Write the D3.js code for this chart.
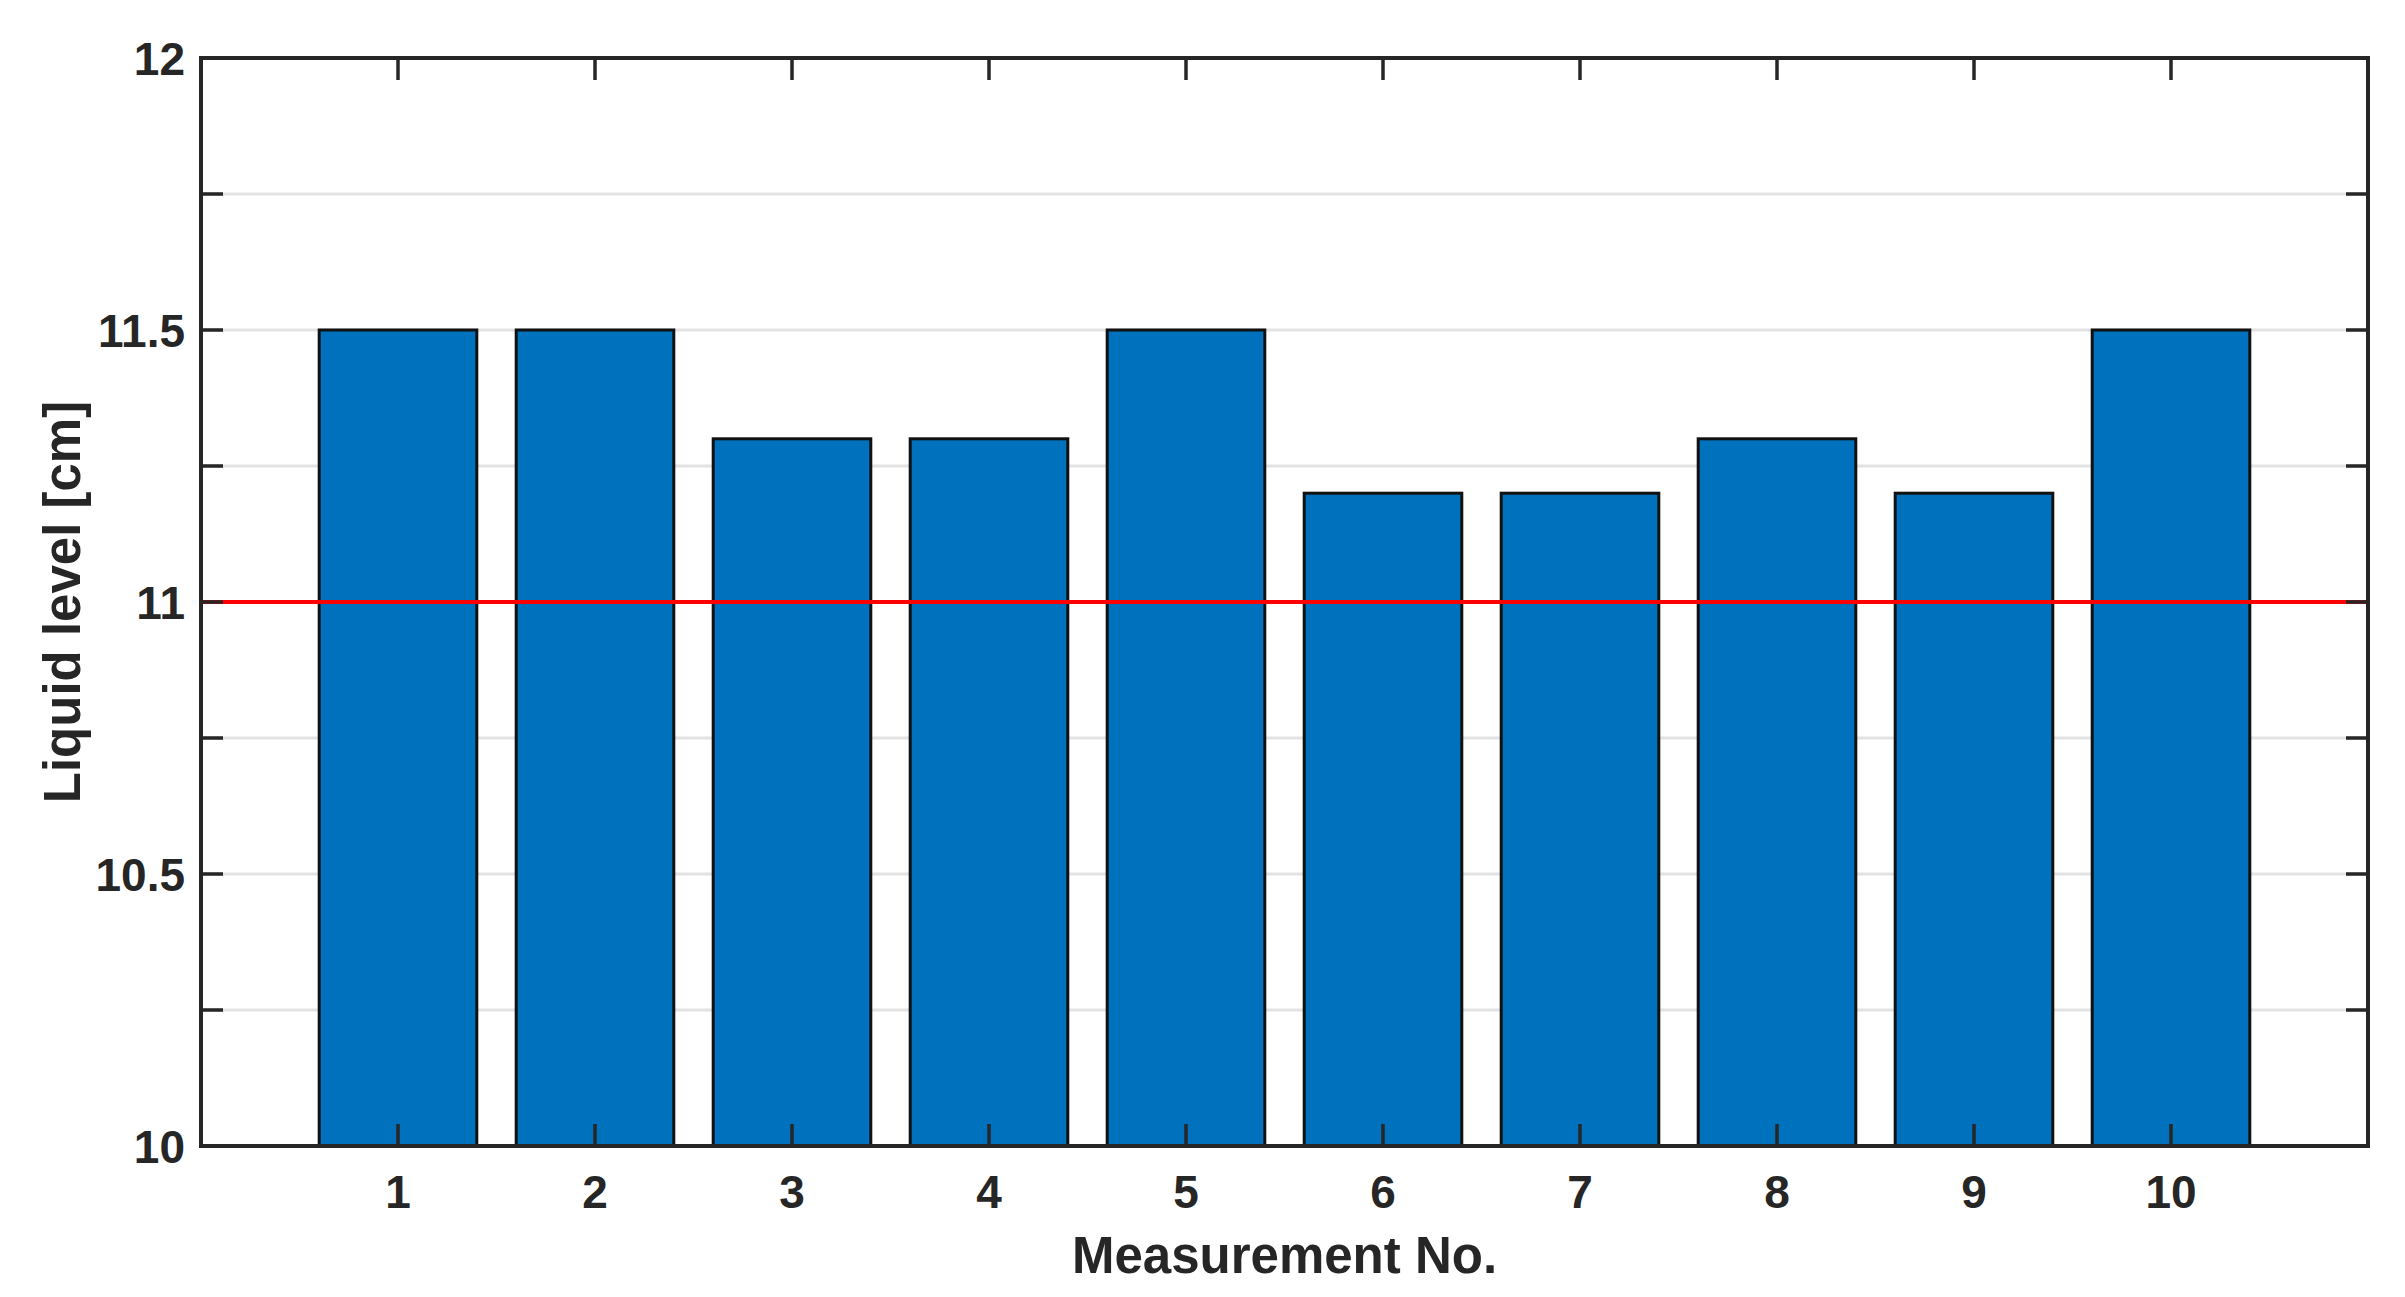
<!DOCTYPE html>
<html>
<head>
<meta charset="utf-8">
<script src="https://cdn.jsdelivr.net/npm/d3@7"></script>
<style>
  body { margin: 0; background: #fff; }
  text { font-family: "Liberation Sans", Arial, sans-serif; font-weight: bold; fill: #262626; }
</style>
</head>
<body>
<div id="chart"></div>
<script>
// data
var measurements = [1, 2, 3, 4, 5, 6, 7, 8, 9, 10];
var levels = [11.5, 11.5, 11.3, 11.3, 11.5, 11.2, 11.2, 11.3, 11.2, 11.5];
var refLevel = 11;
var yTicks = [10, 10.25, 10.5, 10.75, 11, 11.25, 11.5, 11.75, 12];
var yLabels = [10, 10.5, 11, 11.5, 12];

var W = 2405, H = 1297;
var plotLeft = 201, plotRight = 2368, plotTop = 58, plotBottom = 1146;

var svg = d3.select("#chart").append("svg")
    .attr("width", W)
    .attr("height", H);

var x = d3.scaleLinear().domain([0, 11]).range([plotLeft, plotRight]);
var y = d3.scaleLinear().domain([10, 12]).range([plotBottom, plotTop]);
var barW = x(0.8) - x(0);

var axisColor = "#262626";

// grid
svg.append("g").selectAll("line")
    .data(yTicks.filter(function(d) { return d > 10 && d < 12; }))
    .enter().append("line")
    .attr("x1", plotLeft).attr("x2", plotRight)
    .attr("y1", function(d) { return y(d); })
    .attr("y2", function(d) { return y(d); })
    .style("stroke", "#e3e3e3")
    .style("stroke-width", 3);

// bars
svg.append("g").selectAll("rect")
    .data(levels)
    .enter().append("rect")
    .attr("x", function(d, i) { return x(measurements[i]) - barW / 2; })
    .attr("y", function(d) { return y(d); })
    .attr("width", barW)
    .attr("height", function(d) { return y(10) - y(d); })
    .style("fill", "#0072BD")
    .style("stroke", "#111")
    .style("stroke-width", 3);

// reference line
svg.append("line")
    .attr("x1", plotLeft).attr("x2", plotRight)
    .attr("y1", y(refLevel)).attr("y2", y(refLevel))
    .style("stroke", "#ff0000")
    .style("stroke-width", 4);

// ticks, inward on all sides
var tl = 22;
var ticks = svg.append("g").style("stroke", axisColor).style("stroke-width", 3.5);
yTicks.forEach(function(d) {
  ticks.append("line").attr("x1", plotLeft).attr("x2", plotLeft + tl).attr("y1", y(d)).attr("y2", y(d));
  ticks.append("line").attr("x1", plotRight).attr("x2", plotRight - tl).attr("y1", y(d)).attr("y2", y(d));
});
measurements.forEach(function(d) {
  ticks.append("line").attr("x1", x(d)).attr("x2", x(d)).attr("y1", plotBottom).attr("y2", plotBottom - tl);
  ticks.append("line").attr("x1", x(d)).attr("x2", x(d)).attr("y1", plotTop).attr("y2", plotTop + tl);
});

// box
svg.append("rect")
    .attr("x", plotLeft).attr("y", plotTop)
    .attr("width", plotRight - plotLeft).attr("height", plotBottom - plotTop)
    .style("fill", "none")
    .style("stroke", axisColor)
    .style("stroke-width", 4);

// tick labels
svg.append("g").selectAll("text")
    .data(yLabels)
    .enter().append("text")
    .attr("x", plotLeft - 16)
    .attr("y", function(d) { return y(d); })
    .attr("dy", "0.36em")
    .attr("text-anchor", "end")
    .style("font-size", "46px")
    .text(function(d) { return d; });

svg.append("g").selectAll("text")
    .data(measurements)
    .enter().append("text")
    .attr("x", function(d) { return x(d); })
    .attr("y", 1208)
    .attr("text-anchor", "middle")
    .style("font-size", "46px")
    .text(function(d) { return d; });

// axis titles
svg.append("text")
    .attr("x", (plotLeft + plotRight) / 2)
    .attr("y", 1273)
    .attr("text-anchor", "middle")
    .style("font-size", "51px")
    .text("Measurement No.");

svg.append("text")
    .attr("transform", "translate(80," + (plotTop + plotBottom) / 2 + ") rotate(-90)")
    .attr("text-anchor", "middle")
    .style("font-size", "51px")
    .text("Liquid level [cm]");
</script>
</body>
</html>
